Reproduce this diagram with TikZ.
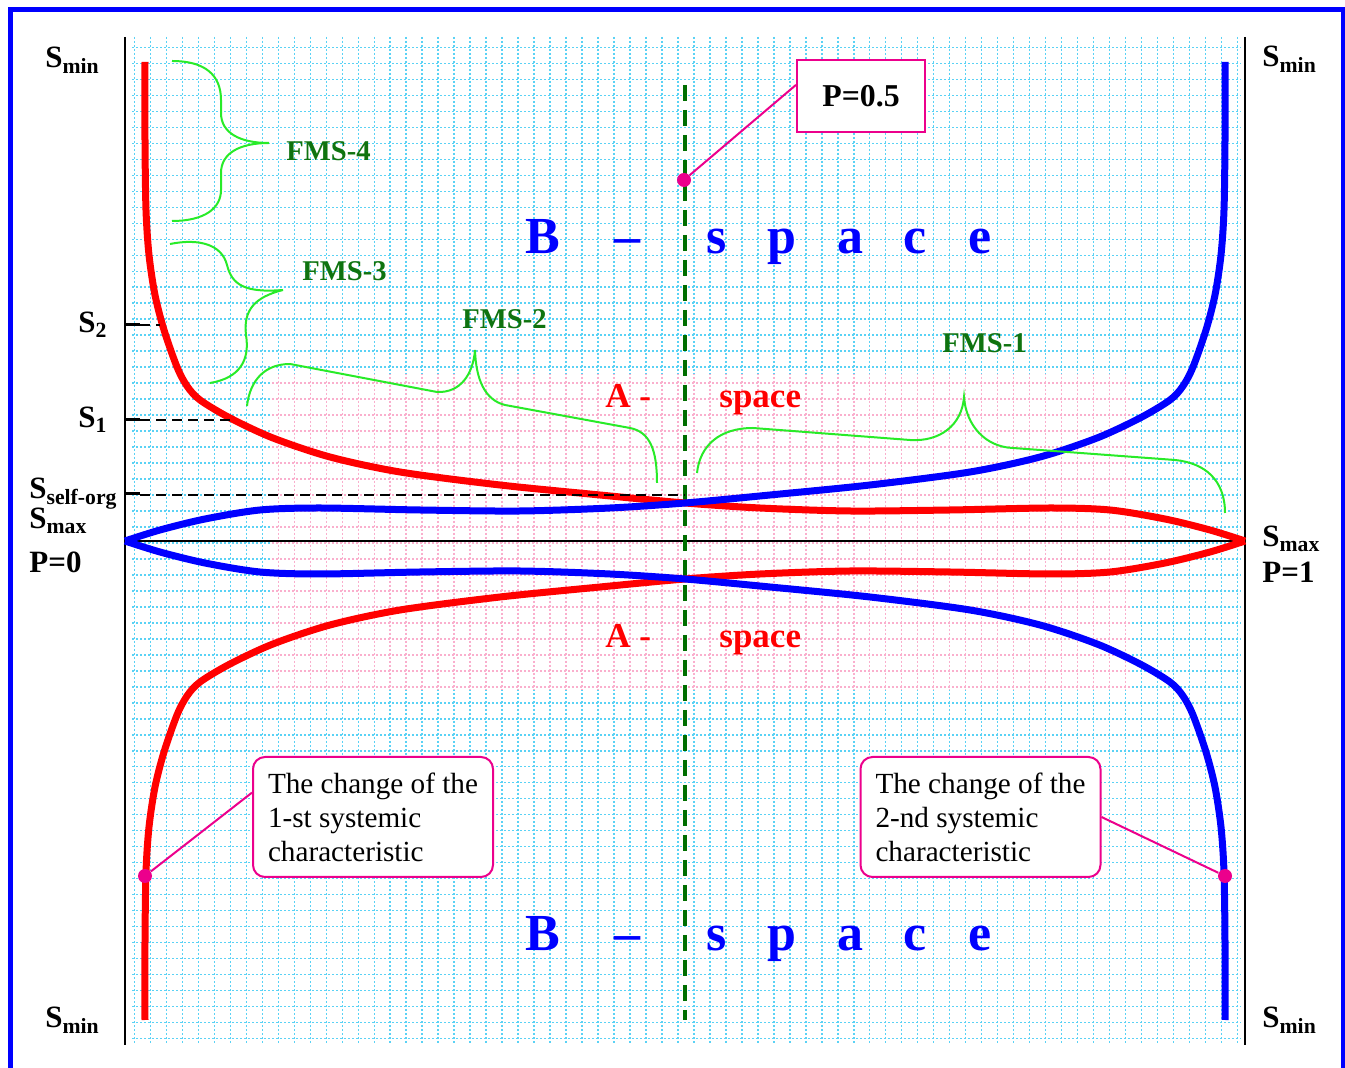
\documentclass[tikz,border=0pt]{standalone}
\usepackage{fontspec}
\setmainfont{Liberation Serif}
\definecolor{gridcyan}{RGB}{90,210,245}
\definecolor{gridpink}{RGB}{250,175,205}
\definecolor{fmsgreen}{RGB}{15,115,15}
\definecolor{bracegreen}{RGB}{40,235,40}
\definecolor{midgreen}{RGB}{0,110,0}
\usepackage{tikz}
\usetikzlibrary{calc}

\begin{document}
\begin{tikzpicture}[
  x=0.5pt, y=-0.5pt,
  gridline/.style={line width=0.65pt, dash pattern=on 1pt off 1pt},
  syscurve/.style={line width=3.5pt},
  lbl/.style={font=\fontsize{15.5}{18}\selectfont\bfseries, inner sep=0pt, anchor=base west},
  fms/.style={font=\fontsize{14.3}{17}\selectfont\bfseries, text=fmsgreen, inner sep=0pt, anchor=base west},
  aspace/.style={font=\fontsize{17.5}{20}\selectfont\bfseries, text=red, inner sep=0pt, anchor=base west},
  bspace/.style={font=\fontsize{26}{30}\selectfont\bfseries, text=blue, inner sep=0pt, anchor=base},
  fmsbrace/.style={draw=bracegreen, line width=1pt},
  tickline/.style={line width=1.5pt},
  tickdash/.style={line width=1pt, dash pattern=on 5pt off 3pt},
  notebox/.style={draw=magenta, line width=1pt, fill=white, rounded corners=6pt, align=left, inner sep=0pt, minimum width=120pt, minimum height=60pt, font=\fontsize{14.6}{17}\selectfont},
  pdot/.style={circle, fill=magenta, inner sep=0pt, minimum size=7pt},
]
  \useasboundingbox (0,0) rectangle (1345,1068);

  % Grid
  \foreach \k in {0,...,69}
    \draw[gridline, gridcyan] ({134.3+15.99*\k},37) -- ({134.3+15.99*\k},1045);
  \foreach \k in {0,...,62}
    \draw[gridline, gridcyan] (132,{47.3+15.99*\k}) -- (1241,{47.3+15.99*\k});

  % A-space area
  \fill[white] (270,375) rectangle (1130,690);
  \begin{scope}
    \clip (270,375) rectangle (1130,690);
    \foreach \k in {9,...,62}
      \draw[gridline, gridpink] ({134.3+15.99*\k},37) -- ({134.3+15.99*\k},1045);
    \foreach \k in {20,...,40}
      \draw[gridline, gridpink] (132,{47.3+15.99*\k}) -- (1241,{47.3+15.99*\k});
  \end{scope}

  % Frame and axes
  \draw[blue, line width=2.5pt] (10,1100) -- (10,10) -- (1343,10) -- (1343,1100);
  \draw[line width=1pt] (125,37) -- (125,1045);
  \draw[line width=1pt] (1245,37) -- (1245,1045);
  \draw[line width=0.8pt] (125,541) -- (1245,541);
  \draw[midgreen, line width=2pt, dash pattern=on 8pt off 4.5pt] (685,85) -- (685,1020);

  % Characteristics
  \foreach \sx/\sy/\col in {1/1/red, -1/1/blue, 1/-1/red, -1/-1/blue}
    \draw[syscurve, draw=\col, shift={({685*(1-\sx)},{541*(1-\sy)})}, xscale=\sx, yscale=\sy]
      plot[smooth, tension=0.5] coordinates {(145,62) (145,140) (146,210) (149,255) (155,295)
        (164,330) (177,367) (187,386) (200,400) (230,418) (273,438) (330,457) (400,472)
        (500,485) (600,495) (685,503) (760,508) (850,511) (950,510) (1050,508) (1110,510)
        (1165,519) (1210,530) (1245,541)};

  % Ticks
  \draw[tickline] (125,325) -- (140,325);
  \draw[tickdash] (140,325) -- (160,325);
  \draw[tickline] (125,420) -- (140,420);
  \draw[tickdash] (140,420) -- (234,420);
  \draw[tickline] (125,494) -- (140,494);
  \draw[tickdash] (140,495) -- (685,495);

  % Axis labels
  \node[lbl] (smin-tl) at (45,68) {S\textsubscript{min}};
  \node[lbl] (smin-bl) at (45,1028) {S\textsubscript{min}};
  \node[lbl] (smin-tr) at (1262,67) {S\textsubscript{min}};
  \node[lbl] (smin-br) at (1262,1028) {S\textsubscript{min}};
  \node[lbl] (s2) at (78,333) {S\textsubscript{2}};
  \node[lbl] (s1) at (78,428) {S\textsubscript{1}};
  \node[lbl] (sself) at (29,499) {S\textsubscript{self-org}};
  \node[lbl] (smax-l) at (29,529) {S\textsubscript{max}};
  \node[lbl] (p0) at (29,573) {P=0};
  \node[lbl] (smax-r) at (1262,547) {S\textsubscript{max}};
  \node[lbl] (p1) at (1262,583) {P=1};

  % Braces
  \draw[fmsbrace] (172,61) .. controls (205,61) and (221,75) .. (221,100) -- (221,113)
    .. controls (221,133) and (240,143) .. (269,143) .. controls (240,143) and (221,153) .. (221,173)
    -- (221,190) .. controls (221,208) and (205,221) .. (172,221);
  \draw[fmsbrace] (170,244) .. controls (200,238) and (222,245) .. (227,265)
    .. controls (232,285) and (245,293) .. (283,290) .. controls (255,297) and (243,310) .. (246,335)
    .. controls (250,360) and (240,378) .. (210,383);
  \draw[fmsbrace] (247,406) .. controls (250,380) and (265,364) .. (290,364) -- (437,392)
    .. controls (460,393) and (473,375) .. (475,350) .. controls (476,380) and (485,400) .. (505,405)
    -- (630,428) .. controls (650,432) and (657,450) .. (657,483);
  \draw[fmsbrace] (697,473) .. controls (700,445) and (720,428) .. (753,428) -- (910,440)
    .. controls (940,442) and (962,425) .. (964,397) .. controls (966,425) and (985,447) .. (1013,448)
    -- (1175,460) .. controls (1205,463) and (1225,480) .. (1225,513);

  \node[fms] (fms4) at (286,161) {FMS-4};
  \node[fms] (fms3) at (302,281) {FMS-3};
  \node[fms] (fms2) at (462,329) {FMS-2};
  \node[fms] (fms1) at (942,353) {FMS-1};

  % A-space and B-space
  \node[aspace] (atop-a) at (605,408) {A -};
  \node[aspace] (atop-s) at (719,408) {space};
  \node[aspace] (abot-a) at (605,648) {A -};
  \node[aspace] (abot-s) at (719,648) {space};
  \foreach \ch/\xx in {B/543, –/627, s/717, p/782, a/850, c/915, e/980} {
    \node[bspace] (btop-\xx) at (\xx,254) {\ch};
    \node[bspace] (bbot-\xx) at (\xx,951) {\ch};
  }

  % P=0.5 marker
  \node[pdot] (p5dot) at (684,180) {};
  \node[draw=magenta, line width=1pt, fill=white, minimum width=64pt, minimum height=36pt,
    font=\fontsize{15.9}{18}\selectfont\bfseries] (p5box) at (861,96) {P=0.5};
  \draw[magenta, line width=1pt] (p5dot) -- ($(p5box.north west)!0.35!(p5box.south west)$);

  % Notes
  \node[notebox] (note1) at (373,817) {The change of the\\1-st systemic\\characteristic};
  \node[notebox] (note2) at (980.5,817) {The change of the\\2-nd systemic\\characteristic};
  \node[pdot] (dot1) at (145,876) {};
  \node[pdot] (dot2) at (1225,876) {};
  \draw[magenta, line width=1pt] (dot1) -- ($(note1.north west)!0.3!(note1.south west)$);
  \draw[magenta, line width=1pt] (note2.east) -- (dot2);
\end{tikzpicture}
\end{document}
